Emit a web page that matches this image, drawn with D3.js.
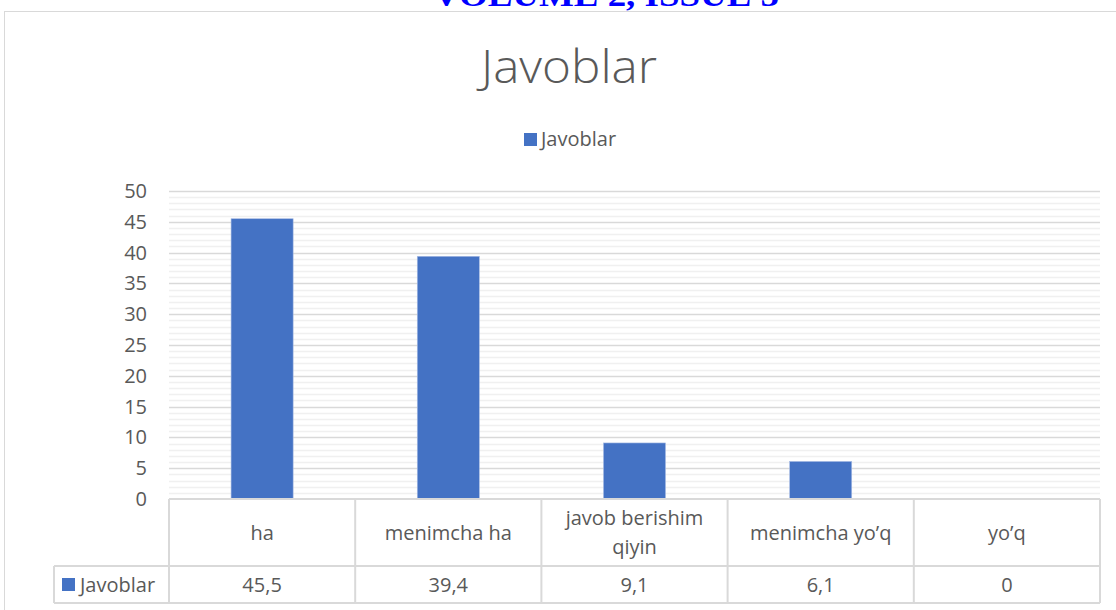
<!DOCTYPE html>
<html>
<head>
<meta charset="utf-8">
<script src="https://cdn.jsdelivr.net/npm/d3@7"></script>
<style>
  body { margin: 0; background: #fff; }
  text { font-family: "Open Sans", "Noto Sans", sans-serif; fill: #595959; }
</style>
</head>
<body>
<div id="chart"></div>
<script>
// data
var categories = [["ha"], ["menimcha ha"], ["javob berishim", "qiyin"], ["menimcha yo\u2019q"], ["yo\u2019q"]];
var values = [45.5, 39.4, 9.1, 6.1, 0];
var valueLabels = ["45,5", "39,4", "9,1", "6,1", "0"];
var yTicks = [0, 5, 10, 15, 20, 25, 30, 35, 40, 45, 50];
var seriesName = "Javoblar";

var W = 1116, H = 610;
var plot = {left: 169, right: 1100, top: 191, bottom: 499};
var blue = "#4472c4", gridMajor = "#d9d9d9", gridMinor = "#f0f0f0";

var svg = d3.select("#chart").append("svg")
    .attr("width", W)
    .attr("height", H);

// page header cut at the top
svg.append("text")
    .attr("x", 606)
    .attr("y", 6)
    .attr("text-anchor", "middle")
    .attr("textLength", 346)
    .attr("lengthAdjust", "spacingAndGlyphs")
    .style("font-family", "'Liberation Serif', 'DejaVu Serif', serif")
    .style("font-weight", "bold")
    .style("font-size", "32px")
    .style("fill", "#0000ff")
    .text("VOLUME 2, ISSUE 5");

// chart frame
svg.append("rect")
    .attr("x", 4.5).attr("y", 11.5)
    .attr("width", 1130).attr("height", 620)
    .attr("fill", "none")
    .attr("stroke", gridMajor);

// title
svg.append("text")
    .attr("x", 569).attr("y", 83)
    .attr("text-anchor", "middle")
    .attr("textLength", 176)
    .attr("lengthAdjust", "spacingAndGlyphs")
    .style("font-size", "46px")
    .style("font-weight", "300")
    .text(seriesName);

// legend
svg.append("rect")
    .attr("x", 524).attr("y", 133)
    .attr("width", 13).attr("height", 13)
    .attr("fill", blue);
svg.append("text")
    .attr("x", 541).attr("y", 146)
    .style("font-size", "20px")
    .text(seriesName);

// scales
var x = d3.scaleBand()
    .domain(d3.range(values.length))
    .range([plot.left, plot.right])
    .paddingInner(0);
var y = d3.scaleLinear().domain([0, 50]).range([plot.bottom, plot.top]);

// minor gridlines every 1
svg.append("g")
    .selectAll("line")
    .data(d3.range(1, 50).filter(function(d) { return d % 5 !== 0; }))
  .enter().append("line")
    .attr("x1", plot.left).attr("x2", plot.right)
    .attr("y1", function(d) { return Math.round(y(d)) + 0.5; })
    .attr("y2", function(d) { return Math.round(y(d)) + 0.5; })
    .attr("stroke", gridMinor)
    .attr("stroke-width", 1.5);

// major gridlines
svg.append("g")
    .selectAll("line")
    .data(yTicks.filter(function(d) { return d > 0; }))
  .enter().append("line")
    .attr("x1", plot.left).attr("x2", plot.right)
    .attr("y1", function(d) { return Math.round(y(d)) + 0.5; })
    .attr("y2", function(d) { return Math.round(y(d)) + 0.5; })
    .attr("stroke", gridMajor)
    .attr("stroke-width", 1.5);

// y axis labels
var yAxis = svg.append("g")
    .attr("transform", "translate(" + (plot.left - 22) + ",0)")
    .call(d3.axisLeft(y).tickValues(yTicks).tickSize(0).tickPadding(0));
yAxis.select(".domain").remove();
yAxis.selectAll("text")
    .style("font-size", "20px")
    .style("font-family", "'Open Sans', 'Noto Sans', sans-serif")
    .attr("fill", "#595959");

// bars
var barW = x.bandwidth() / 3;
svg.append("g")
    .selectAll("rect")
    .data(values)
  .enter().append("rect")
    .attr("x", function(d, i) { return x(i) + x.bandwidth() / 2 - barW / 2; })
    .attr("y", function(d) { return y(d); })
    .attr("width", barW)
    .attr("height", function(d) { return y(0) - y(d); })
    .attr("fill", blue)
    .attr("stroke", "#a9bde4")
    .attr("stroke-width", 0.6);

// data table
var rowTop = plot.bottom, rowMid = 566, rowBot = 603, legLeft = 54;
var tbl = svg.append("g")
    .attr("stroke", gridMajor)
    .attr("stroke-width", 2)
    .attr("fill", "none");
tbl.append("line").attr("x1", plot.left).attr("x2", plot.right).attr("y1", rowTop).attr("y2", rowTop);
tbl.append("line").attr("x1", legLeft).attr("x2", plot.right).attr("y1", rowMid).attr("y2", rowMid);
tbl.append("line").attr("x1", legLeft).attr("x2", plot.right).attr("y1", rowBot).attr("y2", rowBot);
tbl.append("line").attr("x1", legLeft).attr("x2", legLeft).attr("y1", rowMid).attr("y2", rowBot);
tbl.selectAll(".vline")
    .data(d3.range(values.length + 1))
  .enter().append("line")
    .attr("class", "vline")
    .attr("x1", function(i) { return i < values.length ? x(i) : plot.right; })
    .attr("x2", function(i) { return i < values.length ? x(i) : plot.right; })
    .attr("y1", rowTop).attr("y2", rowBot);

// category labels
svg.append("g")
    .selectAll("text")
    .data(categories)
  .enter().append("text")
    .attr("text-anchor", "middle")
    .style("font-size", "20px")
    .attr("transform", function(d, i) {
      return "translate(" + (x(i) + x.bandwidth() / 2) + "," + ((rowTop + rowMid) / 2) + ")";
    })
    .each(function(d) {
      var t = d3.select(this);
      var lh = 29;
      d.forEach(function(line, k) {
        t.append("tspan")
          .attr("x", 0)
          .attr("y", (k - (d.length - 1) / 2) * lh + 7)
          .text(line);
      });
    });

// value labels
svg.append("g")
    .selectAll("text")
    .data(valueLabels)
  .enter().append("text")
    .attr("text-anchor", "middle")
    .attr("x", function(d, i) { return x(i) + x.bandwidth() / 2; })
    .attr("y", (rowMid + rowBot) / 2 + 7)
    .style("font-size", "20px")
    .text(function(d) { return d; });

// legend key in table
svg.append("rect")
    .attr("x", 62).attr("y", 578)
    .attr("width", 13).attr("height", 13)
    .attr("fill", blue);
svg.append("text")
    .attr("x", 80).attr("y", 592)
    .style("font-size", "20px")
    .text(seriesName);
</script>
</body>
</html>
